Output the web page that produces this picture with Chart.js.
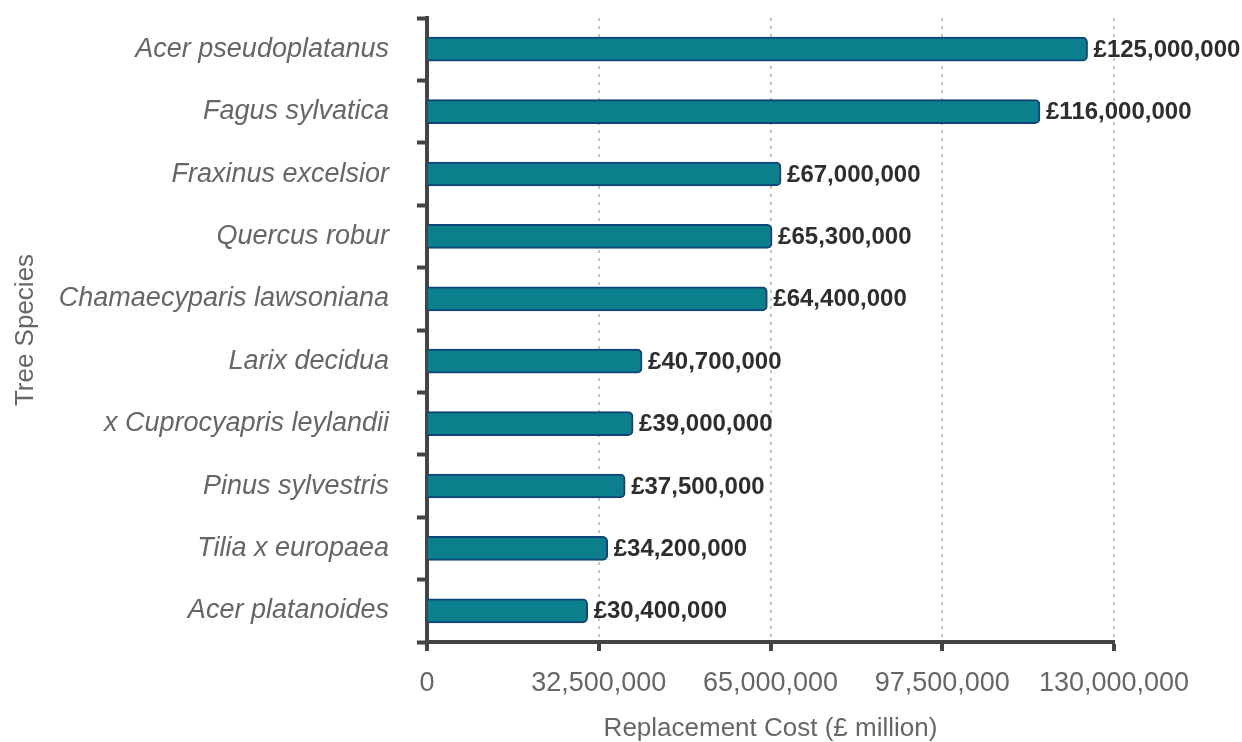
<!DOCTYPE html>
<html>
<head>
<meta charset="utf-8">
<script src="https://cdn.jsdelivr.net/npm/chart.js@4"></script>
<style>
  html, body { margin: 0; padding: 0; background: #fff; }
  #wrap { width: 1242px; height: 742px; position: relative; }
</style>
</head>
<body>
<div id="wrap"><canvas id="chart"></canvas></div>
<script>
const species = [
  "Acer pseudoplatanus",
  "Fagus sylvatica",
  "Fraxinus excelsior",
  "Quercus robur",
  "Chamaecyparis lawsoniana",
  "Larix decidua",
  "x Cuprocyapris leylandii",
  "Pinus sylvestris",
  "Tilia x europaea",
  "Acer platanoides",
];

const costs = [
  125000000, 116000000, 67000000, 65300000, 64400000,
  40700000, 39000000, 37500000, 34200000, 30400000,
];

const xTicks = [0, 32500000, 65000000, 97500000, 130000000];

const FONT = "'Liberation Sans', Arial, sans-serif";
const AXIS = "#444444";

// value labels at the end of each bar
const barLabels = {
  id: "barLabels",
  afterDatasetsDraw(chart) {
    const ctx = chart.ctx;
    const meta = chart.getDatasetMeta(0);
    ctx.save();
    ctx.font = "bold 24px " + FONT;
    ctx.fillStyle = "#2e2e2e";
    ctx.textAlign = "left";
    ctx.textBaseline = "middle";
    meta.data.forEach((bar, i) => {
      const v = chart.data.datasets[0].data[i];
      ctx.fillText("£" + v.toLocaleString("en-GB"), bar.x + 6, bar.y + 1);
    });
    ctx.restore();
  },
};

const config = {
  type: "bar",
  data: {
    labels: species,
    datasets: [
      {
        data: costs,
        backgroundColor: "#0b7f8b",
        borderColor: "#0e4679",
        borderWidth: 2,
        borderRadius: 5,
        barThickness: 24,
      },
    ],
  },
  options: {
    indexAxis: "y",
    responsive: true,
    maintainAspectRatio: false,
    animation: false,
    layout: {
      padding: { top: 18, right: 128, bottom: 0, left: 10 },
    },
    plugins: {
      legend: { display: false },
      tooltip: { enabled: false },
    },
    scales: {
      x: {
        min: 0,
        max: 130000000,
        afterBuildTicks(scale) {
          scale.ticks = xTicks.map((v) => ({ value: v }));
        },
        afterFit(scale) {
          scale.height = 100;
        },
        grid: {
          color: "#c4c4c4",
          lineWidth: 2,
          tickColor: AXIS,
          tickWidth: 4,
          tickLength: 9,
          tickBorderDash: [],
        },
        border: { color: AXIS, width: 4, dash: [3, 5] },
        ticks: {
          color: "#666666",
          font: { family: FONT, size: 27 },
          padding: 16,
          maxRotation: 0,
          callback: (v) => Number(v).toLocaleString("en-GB"),
        },
        title: {
          display: true,
          text: "Replacement Cost (£ million)",
          color: "#666666",
          font: { family: FONT, size: 26, lineHeight: 1.0 },
          padding: { top: 0, bottom: 0 },
        },
      },
      y: {
        afterFit(scale) {
          scale.width = 417;
          scale.paddingTop = 0;
          scale.paddingBottom = 0;
        },
        grid: {
          drawOnChartArea: false,
          tickColor: AXIS,
          tickWidth: 4,
          tickLength: 10,
        },
        border: { color: AXIS, width: 4 },
        ticks: {
          color: "#666666",
          font: { family: FONT, size: 27, style: "italic" },
          padding: 28,
        },
        title: {
          display: true,
          text: "Tree Species",
          color: "#666666",
          font: { family: FONT, size: 26 },
          padding: { top: 0, bottom: 0 },
        },
      },
    },
  },
  plugins: [barLabels],
};

const myChart = new Chart(document.getElementById("chart"), config);
</script>
</body>
</html>
